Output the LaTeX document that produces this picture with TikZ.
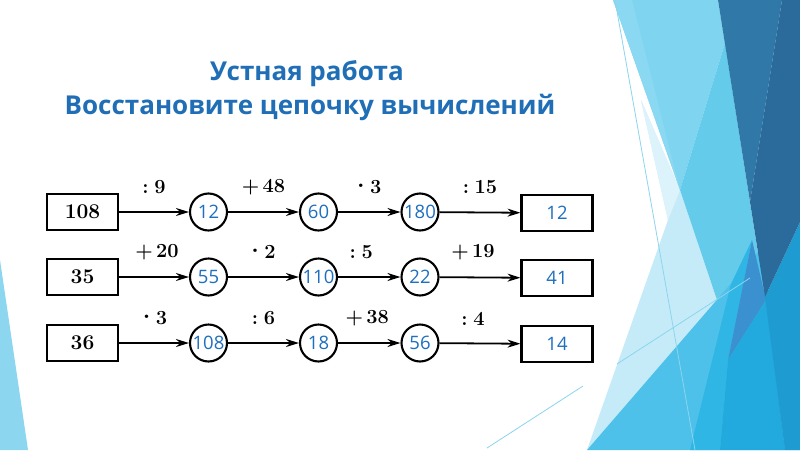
\documentclass[tikz,border=0pt]{standalone}
\usepackage{fontspec}
\usetikzlibrary{arrows.meta}
\newfontfamily\ttlfont{Open Sans}
\newfontfamily\numfont{Open Sans}
\definecolor{ttlblue}{HTML}{1F6EB6}
\definecolor{numblue}{HTML}{1E6FC0}
\definecolor{cPale}{HTML}{C6EBF8}
\definecolor{cPaleTop}{HTML}{DDF3FB}
\definecolor{cC1}{HTML}{7FD4EF}
\definecolor{cC1a}{HTML}{8AD8F1}
\definecolor{cC2}{HTML}{64CBEB}
\definecolor{cC3}{HTML}{4DC1E9}
\definecolor{cB0}{HTML}{2FB6E4}
\definecolor{cM1}{HTML}{3B91CF}
\definecolor{cB1}{HTML}{22A9DE}
\definecolor{cB2}{HTML}{1E9BD0}
\definecolor{cD1}{HTML}{2F78A8}
\definecolor{cD2}{HTML}{2A6B9C}
\definecolor{cLine}{HTML}{8CD4EF}
\definecolor{cLeft}{HTML}{8DD6F0}
\newcommand{\mydot}{\raisebox{0.28em}{\scalebox{1.2}{.}}}
\tikzset{
  startbox/.style={draw, line width=2.1pt, minimum width=71pt, minimum height=36pt, inner sep=0pt,
    font=\bfseries\fontsize{21}{24}\selectfont},
  endbox/.style={startbox, text=numblue, font=\numfont\fontsize{18.5}{20}\selectfont},
  circ/.style={draw, circle, line width=2.1pt, minimum size=37pt, inner sep=0pt, text=numblue,
    font=\numfont\fontsize{18.5}{20}\selectfont},
  arr/.style={line width=1.8pt, -{Stealth[length=13pt,width=8pt]}},
  lbl/.style={midway, yshift=25pt, inner sep=0pt, font=\bfseries\fontsize{20}{22}\selectfont},
  ttl/.style={anchor=base, inner sep=0pt, text=ttlblue, font=\ttlfont\bfseries\fontsize{26}{30}\selectfont},
  thin/.style={cLine, line width=0.8pt}
}
\begin{document}
\begin{tikzpicture}[x=1pt,y=-1pt]
\useasboundingbox (0,0) rectangle (800,450);
\fill[white] (0,0) rectangle (800,450);
% background facets
\fill[cLeft] (0,260) -- (28,450) -- (0,450) -- cycle;
\fill[cPale] (641,100) -- (680,190) -- (717,300) -- (587,450) -- (668,220) -- cycle;
\fill[cPaleTop] (641,100) -- (680,190) -- (668,220) -- cycle;
\fill[cC1] (613,0) -- (718,0) -- (725,43) -- (680,190) -- cycle;
\fill[cC1a] (613,0) -- (632,0) -- (680,190) -- cycle;
\fill[cC2] (725,43) -- (770,330) -- (717,300) -- (680,190) -- cycle;
\fill[cC3] (587,450) -- (760,250) -- (800,450) -- cycle;
\fill[cB0] (731,284) -- (752,240) -- (728,360) -- (720,450) -- (690,450) -- cycle;
\fill[cM1] (752,240) -- (766,300) -- (728,360) -- cycle;
\fill[cB1] (766,300) -- (728,360) -- (720,450) -- (785,450) -- cycle;
\fill[cB2] (800,222) -- (765,297) -- (785,450) -- (800,450) -- cycle;
\fill[cD1] (718,0) -- (782,0) -- (750,202) -- cycle;
\fill[cD2] (782,0) -- (800,0) -- (800,222) -- (765,297) -- (750,202) -- cycle;
\draw[thin] (615,0) -- (695,450);
\draw[thin] (487,448) -- (583,386);
\draw[thin] (617,364) -- (750,278);
% title
\node[ttl] (t1) at (307,80) {Устная работа};
\node[ttl] (t2) at (310,114) {Восстановите цепочку вычислений};
% row 1
\node[startbox] (a0) at (82.5,212) {108};
\node[circ] (a1) at (208.5,212) {12};
\node[circ] (a2) at (318.5,212) {60};
\node[circ] (a3) at (420,212) {180};
\node[endbox] (a4) at (557,213) {12};
\draw[arr] (a0) -- node[lbl] (la1) {:\;9} (a1);
\draw[arr] (a1) -- node[lbl] (la2) {+\,48} (a2);
\draw[arr] (a2) -- node[lbl] (la3) {\mydot\;3} (a3);
\draw[arr] (a3) -- node[lbl] (la4) {:\;15} (a4);
% row 2
\node[startbox] (b0) at (82.5,277) {35};
\node[circ] (b1) at (208.5,277) {55};
\node[circ] (b2) at (318.5,277) {110};
\node[circ] (b3) at (420,277) {22};
\node[endbox] (b4) at (557,278) {41};
\draw[arr] (b0) -- node[lbl, xshift=3pt] (lb1) {+\,20} (b1);
\draw[arr] (b1) -- node[lbl] (lb2) {\mydot\;2} (b2);
\draw[arr] (b2) -- node[lbl, xshift=-8pt] (lb3) {:\;5} (b3);
\draw[arr] (b3) -- node[lbl, xshift=-7pt] (lb4) {+\,19} (b4);
% row 3
\node[startbox] (c0) at (82.5,343) {36};
\node[circ] (c1) at (208.5,343) {108};
\node[circ] (c2) at (318.5,343) {18};
\node[circ] (c3) at (420,343) {56};
\node[endbox] (c4) at (557,344) {14};
\draw[arr] (c0) -- node[lbl, xshift=1pt] (lc1) {\mydot\;3} (c1);
\draw[arr] (c1) -- node[lbl] (lc2) {:\;6} (c2);
\draw[arr] (c2) -- node[lbl, xshift=-2pt] (lc3) {+\,38} (c3);
\draw[arr] (c3) -- node[lbl, xshift=-7pt] (lc4) {:\;4} (c4);
\end{tikzpicture}
\end{document}
